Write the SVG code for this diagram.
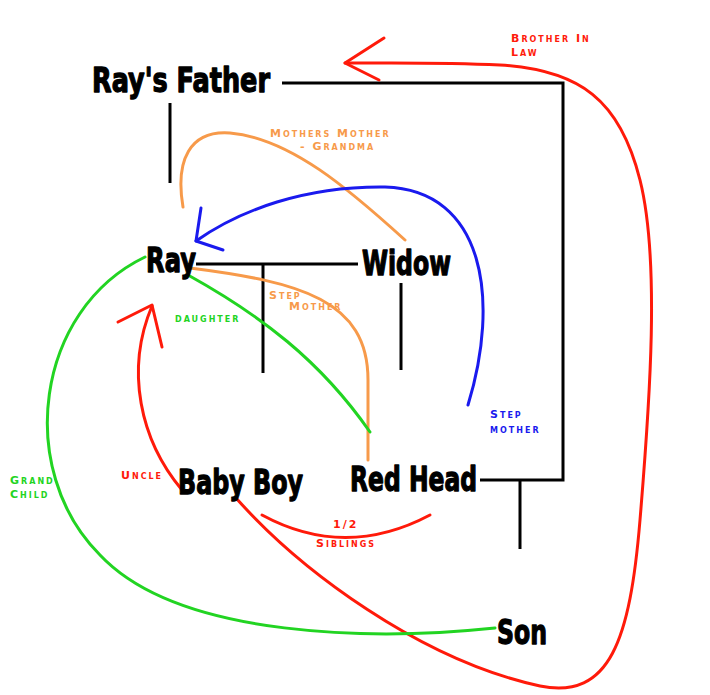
<svg xmlns="http://www.w3.org/2000/svg" width="710" height="695" viewBox="0 0 710 695">
<style>
.name{font-family:"DejaVu Sans","Liberation Sans",sans-serif;font-weight:bold;font-size:33px;fill:#000;stroke:#000;stroke-width:1.3;stroke-linejoin:round;}
.lbl{font-family:"DejaVu Sans","Liberation Sans",sans-serif;font-weight:bold;font-size:11px;font-variant:small-caps;letter-spacing:2px;}
.blk{fill:none;stroke:#000;stroke-width:3;stroke-linecap:butt;stroke-linejoin:miter;}
.cur{fill:none;stroke-width:3;stroke-linecap:round;stroke-linejoin:round;}
.red{stroke:#ff1a0a;}
.org{stroke:#f79a4a;}
.blu{stroke:#1a1aee;}
.grn{stroke:#22d422;}
</style>
<rect width="710" height="695" fill="#fff"/>
<g id="connectors">
  <path class="blk" d="M282,83 H563 V480 H480"/>
  <path class="blk" d="M520,480 V549"/>
  <path class="blk" d="M170,103 V183"/>
  <path class="blk" d="M196,264 H358"/>
  <path class="blk" d="M263,264 V373"/>
  <path class="blk" d="M401,283 V370"/>
  <path class="cur red" d="M236,498 C300,570 420,660 540,686 C610,700 630,640 640,520 C650,400 660,260 640,180 C620,100 580,70 500,65 C440,62 390,63 345,63"/>
  <path class="cur red" d="M384,38 L345,63 L379,80"/>
  <path class="cur org" d="M183,207 C175,160 190,130 230,133 C290,138 350,190 405,240"/>
  <path class="cur blu" d="M468,405 C500,300 485,190 385,187 C305,186 240,210 196,241"/>
  <path class="cur blu" d="M201,208 L196,241 L223,250"/>
  <path class="cur org" d="M190,268 C300,282 368,300 368,380 L368,460"/>
  <path class="cur grn" d="M188,275 C260,315 320,360 370,432"/>
  <path class="cur grn" d="M145,257 C35,310 15,470 100,555 C180,640 380,640 495,628"/>
  <path class="cur red" d="M182,490 C140,440 125,370 152,306"/>
  <path class="cur red" d="M118,322 L152,305 L162,347"/>
  <path class="cur red" d="M262,515 Q345,560 430,515"/>
</g>
<g id="node-rays-father"><text class="name" x="92" y="92" textLength="178" lengthAdjust="spacingAndGlyphs">Ray's Father</text></g>
<g id="node-ray"><text class="name" x="146" y="272" textLength="50" lengthAdjust="spacingAndGlyphs">Ray</text></g>
<g id="node-widow"><text class="name" x="362" y="275" textLength="89" lengthAdjust="spacingAndGlyphs">Widow</text></g>
<g id="node-baby-boy"><text class="name" x="178" y="494" textLength="125" lengthAdjust="spacingAndGlyphs">Baby Boy</text></g>
<g id="node-red-head"><text class="name" x="350" y="491" textLength="127" lengthAdjust="spacingAndGlyphs">Red Head</text></g>
<g id="node-son"><text class="name" x="497" y="644" textLength="50" lengthAdjust="spacingAndGlyphs">Son</text></g>
<g id="labels">
  <text class="lbl" fill="#ff1a0a" x="511" y="42">Brother In</text>
  <text class="lbl" fill="#ff1a0a" x="511" y="56">Law</text>
  <text class="lbl" fill="#f79a4a" x="270" y="137">Mothers Mother</text>
  <text class="lbl" fill="#f79a4a" x="300" y="150">- Grandma</text>
  <text class="lbl" fill="#f79a4a" x="269" y="299">Step</text>
  <text class="lbl" fill="#f79a4a" x="289" y="310">Mother</text>
  <text class="lbl" fill="#22d422" x="175" y="322">daughter</text>
  <text class="lbl" fill="#1a1aee" x="490" y="418">Step</text>
  <text class="lbl" fill="#1a1aee" x="490" y="433">mother</text>
  <text class="lbl" fill="#22d422" x="10" y="484">Grand</text>
  <text class="lbl" fill="#22d422" x="10" y="498">Child</text>
  <text class="lbl" fill="#ff1a0a" x="121" y="479">Uncle</text>
  <text class="lbl" fill="#ff1a0a" x="333" y="528">1/2</text>
  <text class="lbl" fill="#ff1a0a" x="316" y="547">Siblings</text>
</g>
</svg>
